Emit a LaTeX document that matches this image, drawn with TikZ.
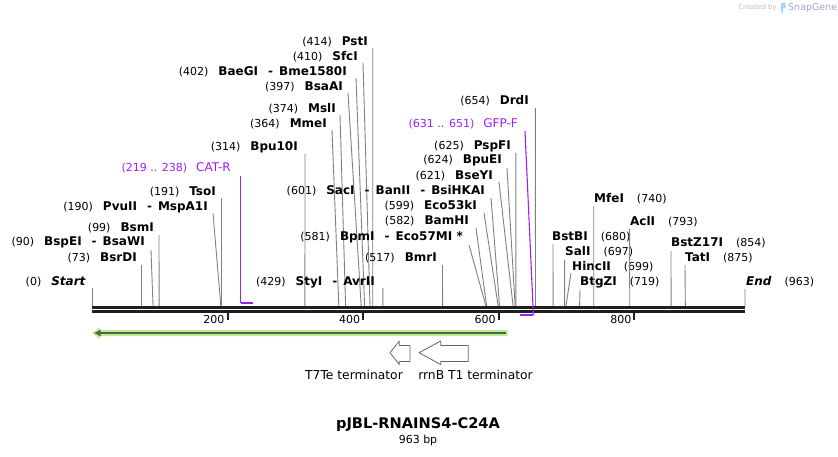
\documentclass[tikz,border=0pt]{standalone}
\usepackage{fontspec}
\setmainfont{DejaVu Sans}
\usetikzlibrary{calc}
\definecolor{primer}{RGB}{160,32,240}
\definecolor{siteline}{RGB}{128,128,128}
\definecolor{featgreen}{RGB}{180,240,140}
\definecolor{featdark}{RGB}{85,95,75}
\definecolor{termline}{RGB}{100,100,100}
\newcommand\posfont{\fontsize{11}{13}\selectfont\mdseries}
\newcommand\enzfont{\fontsize{12}{14}\selectfont\bfseries}
\newcommand\enzsep{\hspace{10pt}-\hspace{6pt}}

\begin{document}
\begin{tikzpicture}[x=1pt,y=-1pt,
    lab/.style={inner sep=0pt, font=\enzfont},
    cut/.style={draw=siteline, line width=0.9pt},
    prm/.style={draw=primer, line width=1.1pt},
    prmlab/.style={inner sep=0pt, text=primer, font=\fontsize{12}{14}\selectfont},
    term/.style={draw=termline, fill=white, line width=0.8pt, line join=round},
    termlab/.style={inner sep=0pt, font=\fontsize{12.3}{14}\selectfont}]

    \useasboundingbox (0,0) rectangle (838,456);

    % sites written left of their line
    \foreach \bp/\ty/\tx/\lx/\ly/\nm [count=\i] in {
        0/282/86/92/288/{\textit{Start}},
        73/258/137/141.5/265/BsrDI,
        90/242/145/151/250/{BspEI\enzsep BsaWI},
        99/228/154/159/235/BsmI,
        190/207/208/213/213/{PvuII\enzsep MspA1I},
        191/192/216/221.5/198/TsoI,
        314/147/298/305/154/Bpu10I,
        364/124/327/332/130/MmeI,
        374/109/336/340/115/MslI,
        397/87/343/348/93/BsaAI,
        402/72/347/356/78/{BaeGI\enzsep Bme1580I},
        410/57/358/363/63/SfcI,
        414/42/368/372.7/48/PstI,
        429/282/375/382.9/288/{StyI\enzsep AvrII},
        517/258/437/442.5/265/BmrI,
        581/237/463/469/245/{BpmI\enzsep Eco57MI *},
        582/221/469/476/228/BamHI,
        599/206/477/484/213/Eco53kI,
        601/191/485/491/198/{SacI\enzsep BanII\enzsep BsiHKAI},
        621/176/493/499/182/BseYI,
        624/160/502/507/168/BpuEI,
        625/146/511/515.8/153/PspFI,
        654/101/529/535.4/108/DrdI}
    {
        \node (enzL\i) [lab, anchor=east] at (\tx,\ty) {{\posfont(\bp)}\hspace{10pt}\nm};
        \coordinate (topL\i) at (\lx,\ly);
        \coordinate (siteL\i) at ({92+\bp*0.678089},306);
        \draw[cut] (topL\i) -- (siteL\i);
    }

    % sites written right of their line
    \foreach \bp/\ty/\tx/\lx/\ly/\nm [count=\i] in {
        680/237/552/553/244/BstBI,
        697/252/565/564.6/260/SalI,
        699/267/572/571/273/HincII,
        719/282/580/580/290/BtgZI,
        740/199/594/593.7/206/MfeI,
        793/222/630/629.6/229/AclI,
        854/243/671/671/251/BstZ17I,
        875/258/685/685/265/TatI,
        963/282/746/745/289/{\textit{End}}}
    {
        \node (enzR\i) [lab, anchor=west] at (\tx,\ty) {\nm\hspace{13pt}{\posfont(\bp)}};
        \coordinate (topR\i) at (\lx,\ly);
        \coordinate (siteR\i) at ({92+\bp*0.678089},306);
        \draw[cut] (topR\i) -- (siteR\i);
    }

    % backbone
    \coordinate (seqA) at (92,307.3);
    \coordinate (seqB) at (745,307.3);
    \draw[line width=2.5pt, black!88] (seqA) -- (seqB);
    \draw[line width=2.5pt, black!88] ($(seqA)+(0,4.2)$) -- ($(seqB)+(0,4.2)$);

    \foreach \t in {200,400,600,800} {
        \coordinate (tick\t) at ({92+\t*0.678089},312);
        \draw[line width=2pt, black!88] (tick\t) -- ++(0,7.5);
        \node (tl\t) [anchor=east, inner sep=0pt, font=\posfont] at ($(tick\t)+(-3,7)$) {\t};
    }

    % primers
    \node (catr) [prmlab, anchor=east] at (231,168) {{\fontsize{11}{13}\selectfont(219 .. 238)}\hspace{9pt}CAT-R};
    \coordinate (catrA) at (240.5,176);
    \coordinate (catrB) at (240.5,302.5);
    \coordinate (catrC) at (253.4,302.5);
    \draw[prm] (catrA) -- (catrB);
    \draw[prm, line width=2pt] (catrB) -- (catrC);

    \node (gfpf) [prmlab, anchor=east] at (518,124) {{\fontsize{11}{13}\selectfont(631 .. 651)}\hspace{9pt}GFP-F};
    \coordinate (gfpfA) at (525,131);
    \coordinate (gfpfB) at (533.4,315);
    \coordinate (gfpfC) at (519.8,315);
    \draw[prm] (gfpfA) -- (gfpfB);
    \draw[prm, line width=2pt] (gfpfB) -- (gfpfC);

    % feature arrow
    \fill[featgreen] (92,333) -- (100,327) -- (100,330) -- (507.5,330) -- (507.5,336) -- (100,336) -- (100,339) -- cycle;
    \coordinate (featE) at (506,333);
    \coordinate (featS) at (94.5,333);
    \draw[featdark, line width=2.2pt] (featE) -- ($(featS)+(4,0)$);
    \fill[featdark] (featS) -- ++(6,-3.2) -- ++(0,6.4) -- cycle;

    % terminators
    \draw[term] (390,352.7) -- (399.3,341) -- (399.3,345.5) -- (410,345.5) -- (410,361.5) -- (399.3,361.5) -- (399.3,364.5) -- cycle;
    \draw[term] (419,352.7) -- (440.7,341) -- (440.7,345.5) -- (468.3,345.5) -- (468.3,361.5) -- (440.7,361.5) -- (440.7,364.5) -- cycle;
    \node (t7te) [termlab] at (354,374.5) {T7Te terminator};
    \node (rrnb) [termlab] at (475.5,374.5) {rrnB T1 terminator};

    % title
    \node (title) [inner sep=0pt, font=\fontsize{14.6}{16}\selectfont\bfseries] at (418,425) {pJBL-RNAINS4-C24A};
    \node (size) [inner sep=0pt, font=\posfont] at (418,440) {963 bp};

    % watermark
    \node (made) [anchor=east, inner sep=0pt, text=black!25, font=\fontsize{7}{8}\selectfont] at (777,7.5) {Created by};
    \fill[blue!45!cyan!60, opacity=0.6] (781,3) -- (785.5,2.5) -- (785.5,8) -- (783,8.5) -- (783,12.5) -- (781,12.5) -- cycle;
    \node (sg) [anchor=west, inner sep=0pt, text=blue!30!gray!55, font=\fontsize{9.5}{11}\selectfont] at (788,7.5) {SnapGene};

\end{tikzpicture}
\end{document}
